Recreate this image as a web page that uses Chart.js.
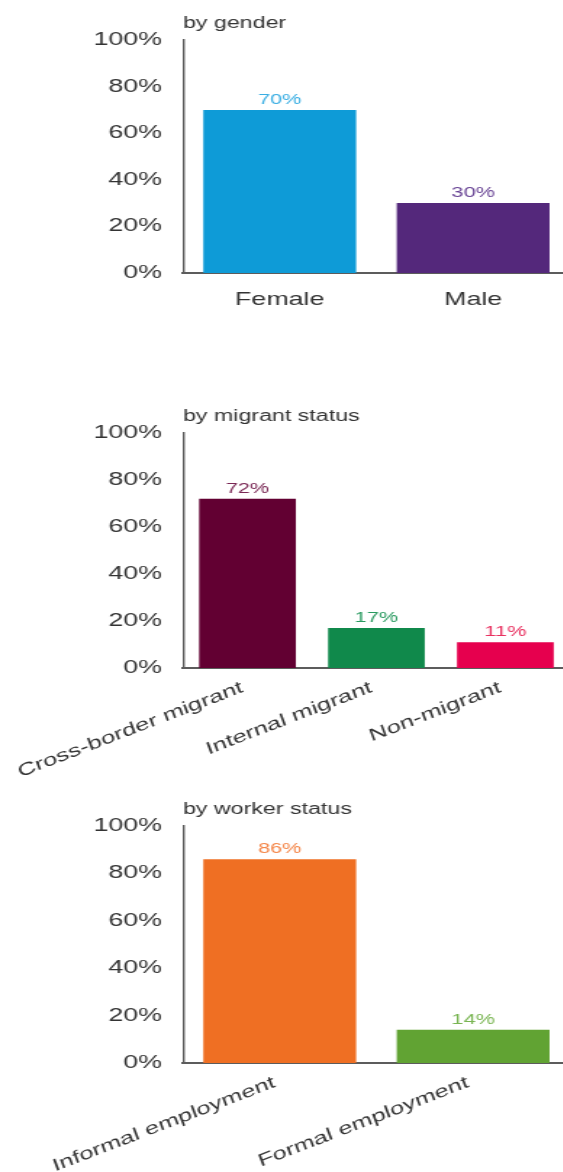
<!DOCTYPE html>
<html>
<head>
<meta charset="utf-8">
<script src="https://cdn.jsdelivr.net/npm/chart.js@4.4.1/dist/chart.umd.min.js"></script>
<style>
  html, body { margin: 0; padding: 0; background: #fff; }
  body { width: 563px; height: 1172px; overflow: hidden; position: relative; }
  /* panels are drawn narrow and widened, giving the broad lettering */
  .panel { position: absolute; left: 0; width: 393px; transform: scaleX(1.45); transform-origin: 0 0; }
  .panel canvas { display: block; }
</style>
</head>
<body>
<div class="panel" style="top:0;height:340px"><canvas id="genderChart" width="393" height="340"></canvas></div>
<div class="panel" style="top:380px;height:410px"><canvas id="migrantChart" width="393" height="410"></canvas></div>
<div class="panel" style="top:790px;height:382px"><canvas id="workerChart" width="393" height="382"></canvas></div>
<script>
// by gender
const genderLabels = ['Female', 'Male'];
const genderValues = [70, 30];
const genderColors = ['#0e9bd7', '#54287b'];
const genderTextColors = ['#3aaee3', '#6a4696'];

// by migrant status
const migrantLabels = ['Cross-border migrant', 'Internal migrant', 'Non-migrant'];
const migrantValues = [72, 17, 11];
const migrantColors = ['#620032', '#10894b', '#e6004e'];
const migrantTextColors = ['#7a2855', '#2a9a60', '#e8305f'];

// by worker status
const workerLabels = ['Informal employment', 'Formal employment'];
const workerValues = [86, 14];
const workerColors = ['#ef6f23', '#61a333'];
const workerTextColors = ['#f4874a', '#79b552'];

const STRETCH = 1.45;   // must match the scaleX on .panel
const FONT = '"Liberation Sans", Arial, Helvetica, sans-serif';
const INK = '#333333';
const AXIS = '#5c5c5c';

// small heading written just above the y axis
const panelTitle = {
  id: 'panelTitle',
  afterDraw(chart, args, opts) {
    const { ctx, chartArea } = chart;
    ctx.save();
    ctx.font = `16px ${FONT}`;
    ctx.fillStyle = INK;
    ctx.textAlign = 'left';
    ctx.textBaseline = 'alphabetic';
    ctx.fillText(opts.text, chartArea.left, chartArea.top - 12);
    ctx.restore();
  }
};

// percentage over each bar
const valueLabels = {
  id: 'valueLabels',
  afterDatasetsDraw(chart, args, opts) {
    const { ctx } = chart;
    const ds = chart.data.datasets[0];
    ctx.save();
    ctx.font = `15px ${FONT}`;
    ctx.textAlign = 'center';
    ctx.textBaseline = 'alphabetic';
    chart.getDatasetMeta(0).data.forEach((bar, i) => {
      ctx.fillStyle = opts.colors[i];
      ctx.fillText(ds.data[i] + '%', bar.x, bar.y - 6);
    });
    ctx.restore();
  }
};

// slanted category labels; the extra skew undoes the panel stretch so the
// letters stay upright along their own baseline
const slantedLabels = {
  id: 'slantedLabels',
  afterDraw(chart, args, opts) {
    if (!opts.angle) return;
    const { ctx } = chart;
    const xs = chart.scales.x;
    const a = opts.angle * Math.PI / 180;
    const c = Math.cos(a), s = Math.sin(a);
    ctx.save();
    ctx.font = `17.5px ${FONT}`;
    ctx.fillStyle = INK;
    ctx.textAlign = 'right';
    ctx.textBaseline = 'middle';
    xs.ticks.forEach((t, i) => {
      ctx.save();
      ctx.translate(xs.getPixelForTick(i) + opts.dx, xs.top + opts.dy);
      ctx.transform(c, -s * STRETCH, s / STRETCH, c, 0, 0);
      ctx.fillText(xs.getLabelForValue(t.value), 0, 0);
      ctx.restore();
    });
    ctx.restore();
  }
};

function makeBarChart(id, cfg) {
  return new Chart(document.getElementById(id), {
    type: 'bar',
    data: {
      labels: cfg.labels,
      datasets: [{
        data: cfg.values,
        backgroundColor: cfg.colors,
        borderWidth: 0,
        barPercentage: cfg.barPct,
        categoryPercentage: 1,
      }]
    },
    options: {
      responsive: false,
      animation: false,
      layout: { padding: { top: cfg.top, left: 0, right: 0, bottom: 0 } },
      plugins: {
        legend: { display: false },
        tooltip: { enabled: false },
        panelTitle: { text: cfg.title },
        valueLabels: { colors: cfg.textColors },
        slantedLabels: { angle: cfg.angle, dx: -3.5, dy: 19 },
      },
      scales: {
        x: {
          grid: { display: false, drawTicks: false },
          border: { display: true, color: AXIS, width: 2 },
          ticks: {
            display: !cfg.angle,
            color: INK,
            font: { family: FONT, size: 18.5 },
            padding: 16,
            maxRotation: 0,
            autoSkip: false,
          },
          afterFit: s => {
            s.height = cfg.xHeight;
            s.paddingLeft = 0;
            s.paddingRight = 0;
          }
        },
        y: {
          min: 0,
          max: 100,
          grid: { display: false, drawTicks: false },
          border: { display: true, color: AXIS, width: 1.4 },
          ticks: {
            stepSize: 20,
            color: INK,
            font: { family: FONT, size: 18.5 },
            padding: 14.5,
            callback: v => v + '%',
          },
          afterFit: s => { s.width = 126.2; }
        }
      }
    },
    plugins: [panelTitle, valueLabels, slantedLabels]
  });
}

makeBarChart('genderChart', {
  title: 'by gender',
  labels: genderLabels, values: genderValues,
  colors: genderColors, textColors: genderTextColors,
  barPct: 0.79, top: 40, xHeight: 67, angle: 0,
});

makeBarChart('migrantChart', {
  title: 'by migrant status',
  labels: migrantLabels, values: migrantValues,
  colors: migrantColors, textColors: migrantTextColors,
  barPct: 0.75, top: 53, xHeight: 122, angle: 21,
});

makeBarChart('workerChart', {
  title: 'by worker status',
  labels: workerLabels, values: workerValues,
  colors: workerColors, textColors: workerTextColors,
  barPct: 0.79, top: 36, xHeight: 109, angle: 21,
});
</script>
</body>
</html>
